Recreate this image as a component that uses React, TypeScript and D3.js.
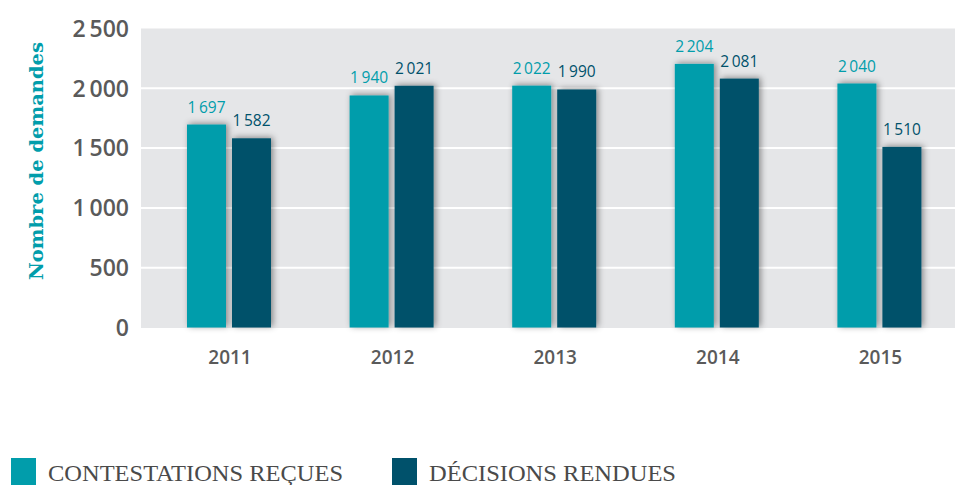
import React from "react";
import * as d3 from "d3";

const years = ["2011", "2012", "2013", "2014", "2015"];
const contestations = [1697, 1940, 2022, 2204, 2040];
const decisions = [1582, 2021, 1990, 2081, 1510];
const yTicks = [0, 500, 1000, 1500, 2000, 2500];
const seriesNames = ["CONTESTATIONS REÇUES", "DÉCISIONS RENDUES"];
const yTitle = "Nombre de demandes";

const W = 955;
const H = 485;
const TEAL = "#019dab";
const DARK = "#00516b";
const TEXT = "#5a5a5a";

const loc = d3.formatLocale({ decimal: ",", thousands: "\u2009", grouping: [3], currency: ["", ""] });
const fmt = loc.format(",d");

export default function App() {
  const plotLeft = 141;
  const plotRight = 955;
  const y = d3.scaleLinear().domain([0, 2500]).range([327.5, 28.5]);
  const x = d3.scaleBand<string>().domain(years).range([147.7, 960.7]).paddingInner(0).paddingOuter(0);
  const barW = 39;
  const gap = 6;
  const center = (yr: string) => (x(yr) as number) + x.bandwidth() / 2;

  return (
    <svg width={W} height={H} style={{ position: "absolute", left: 0, top: 0, display: "block" }}>
      <defs>
        <filter id="sh" x="-30%" y="-10%" width="160%" height="120%">
          <feDropShadow dx="2" dy="-1" stdDeviation="3" floodColor="#000" floodOpacity="0.42" />
        </filter>
      </defs>
      <rect x={plotLeft} y={y(2500)} width={plotRight - plotLeft} height={y(0) - y(2500) + 0.5} fill="#e5e6e8" />
      {yTicks.filter((t) => t > 0 && t < 2500).map((t) => (
        <line key={t} x1={plotLeft} x2={plotRight} y1={y(t)} y2={y(t)} stroke="#fff" strokeWidth={2} />
      ))}
      {yTicks.map((t) => (
        <text key={t} x={129} y={y(t)} dy="0.36em" textAnchor="end" fontFamily="Open Sans" fontWeight={600} fontSize={23} fill={TEXT}>
          {fmt(t)}
        </text>
      ))}
      <text
        transform={`translate(43, 161) rotate(-90)`}
        textAnchor="middle"
        fontFamily="DejaVu Serif"
        fontWeight="bold"
        fontSize={18}
        fill={TEAL}
        textLength={238}
        lengthAdjust="spacingAndGlyphs"
      >
        {yTitle}
      </text>
      {years.map((yr, i) => {
        const c = center(yr);
        const tx = c - gap / 2 - barW;
        const dx = c + gap / 2;
        return (
          <g key={yr}>
            <rect x={tx} y={y(contestations[i])} width={barW} height={y(0) - y(contestations[i])} fill={TEAL} filter="url(#sh)" />
            <rect x={dx} y={y(decisions[i])} width={barW} height={y(0) - y(decisions[i])} fill={DARK} filter="url(#sh)" />
            <text x={tx + barW / 2} y={y(contestations[i]) - 12} textAnchor="middle" fontFamily="Open Sans" fontSize={15.5} fill={TEAL}>
              {fmt(contestations[i])}
            </text>
            <text x={dx + barW / 2} y={y(decisions[i]) - 12} textAnchor="middle" fontFamily="Open Sans" fontSize={15.5} fill={DARK}>
              {fmt(decisions[i])}
            </text>
            <text x={c + 1} y={364} textAnchor="middle" fontFamily="Open Sans" fontWeight={600} fontSize={19} fill={TEXT}>
              {yr}
            </text>
          </g>
        );
      })}
      <rect x={11} y={458} width={25} height={27} fill={TEAL} />
      <text x={48} y={481} fontFamily="Liberation Serif" fontSize={23} fill="#4a4a4a" textLength={295} lengthAdjust="spacingAndGlyphs">
        {seriesNames[0]}
      </text>
      <rect x={392} y={458} width={25} height={27} fill={DARK} />
      <text x={429} y={481} fontFamily="Liberation Serif" fontSize={23} fill="#4a4a4a" textLength={247} lengthAdjust="spacingAndGlyphs">
        {seriesNames[1]}
      </text>
    </svg>
  );
}
